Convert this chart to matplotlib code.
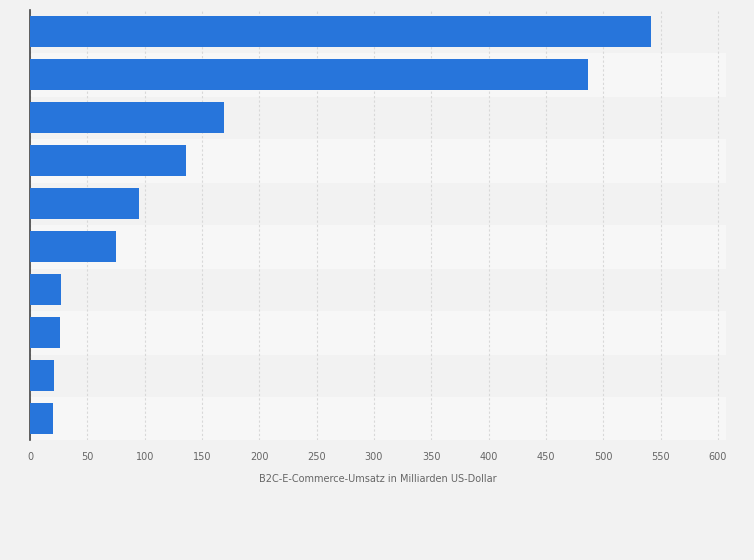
import matplotlib
matplotlib.use("Agg")
import matplotlib.pyplot as plt

categories = ["A", "B", "C", "D", "E", "F", "G", "H", "I", "J"]
values = [542, 487, 169, 136, 95, 75, 27, 26, 21, 20]
xticks = [0, 50, 100, 150, 200, 250, 300, 350, 400, 450, 500, 550, 600]

fig = plt.figure(figsize=(7.54, 5.60), dpi=100, facecolor="#f2f2f2")
ax = fig.add_axes([30/754, 1-440/560, (726-30)/754, 430/560])
ax.set_facecolor("#f2f2f2")
n = len(categories)
ys = list(range(n))
for i in ys:
    if i % 2 == 1:
        ax.axhspan(i-0.5, i+0.5, color="#f7f7f7", zorder=0)
ax.barh(ys, values, height=0.7, color="#2775db", zorder=3)
ax.set_ylim(n-0.5, -0.5)
ax.set_xlim(0, 607)
ax.set_yticks([])
ax.set_xticks(xticks)
ax.set_xticklabels([str(t) for t in xticks], fontsize=7, color="#666666")
ax.tick_params(axis="x", length=0, pad=9)
ax.grid(axis="x", color="#d8d8d8", linestyle=(0, (2, 2)), linewidth=0.8, zorder=1)
for s in ["top", "right", "bottom"]:
    ax.spines[s].set_visible(False)
ax.spines["left"].set_color("#444444")
ax.spines["left"].set_linewidth(1.2)
ax.set_xlabel("B2C-E-Commerce-Umsatz in Milliarden US-Dollar", fontsize=7, color="#666666", labelpad=8)
fig.savefig("out.png", dpi=100, facecolor=fig.get_facecolor())
